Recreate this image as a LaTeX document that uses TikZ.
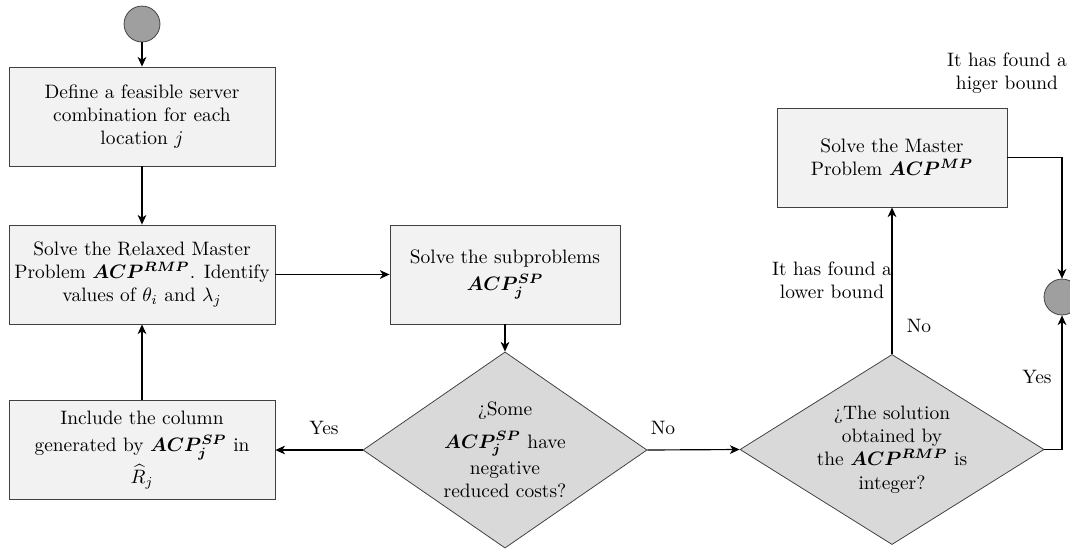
\documentclass[tikz,border=0pt]{standalone}
\usepackage{bm}
\usetikzlibrary{shapes.geometric,arrows.meta}
\begin{document}
\begin{tikzpicture}[x=0.515pt,y=-0.515pt,
  procbox/.style={draw=black!75, fill=gray!10, align=center, minimum width=137pt, minimum height=51pt, inner sep=2pt},
  decbox/.style={diamond, draw=black!75, fill=gray!30, align=center, inner sep=0pt},
  term/.style={circle, draw=black!75, fill=gray!75, minimum size=18.5pt, inner sep=0pt},
  flow/.style={-{Stealth[length=5pt,width=4.5pt,inset=1.5pt]}, semithick},
  lbl/.style={align=center, inner sep=0pt}]
\useasboundingbox (0,0) rectangle (1070,549);
% nodes
\node[term] (start) at (142,24) {};
\node[procbox] (define) at (142,116.5) {Define a feasible server\\combination for each\\location $j$};
\node[procbox] (rmp) at (142,274.5) {Solve the Relaxed Master\\Problem $\bm{ACP}^{\bm{RMP}}$. Identify\\values of $\theta_i$ and $\lambda_j$};
\node[procbox, minimum width=118.5pt] (sub) at (505,274.5) {Solve the subproblems\\[2pt]$\bm{ACP_j^{SP}}$};
\node[procbox] (include) at (142,450) {Include the column\\[2pt]generated by $\bm{ACP_j^{SP}}$ in\\[1.5pt]$\widehat{R}_j$};
\node[decbox, aspect=1.45, minimum width=146.3pt, minimum height=101pt] (some) at (505,450) {\textquestiondown Some\\[4.5pt]$\bm{ACP_j^{SP}}$ have\\[1.5pt]negative\\reduced costs?};
\node[decbox, aspect=1.6, minimum width=156.6pt, minimum height=97.9pt] (integer) at (892,449.5) {\textquestiondown The solution\\obtained by\\the $\bm{ACP}^{\bm{RMP}}$ is\\integer?};
\node[procbox, minimum width=118.5pt] (master) at (892,157.5) {Solve the Master\\Problem $\bm{ACP}^{\bm{MP}}$};
\node[term] (stop) at (1062,297) {};
% labels
\node[lbl] (yes1) at (324,428) {Yes};
\node[lbl] (no1) at (663,428) {No};
\node[lbl] (lower) at (832,280) {It has found a\\lower bound};
\node[lbl] (no2) at (919,326) {No};
\node[lbl] (yes2) at (1037,377) {Yes};
\node[lbl] (higher) at (1007,73) {It has found a\\higer bound};
% connectors
\draw[flow] (start) -- (define);
\draw[flow] (define) -- (rmp);
\draw[flow] (rmp.east |- sub.west) -- (sub.west);
\draw[flow] (sub) -- (some);
\draw[flow] (some) -- (include);
\draw[flow] (include) -- (rmp);
\draw[flow] (some.east) -- (integer.west);
\draw[flow] (integer) -- (master);
\draw[flow] (master.east) -| (stop.north);
\draw[flow] (integer.east) -| (stop.south);
\end{tikzpicture}
\end{document}
